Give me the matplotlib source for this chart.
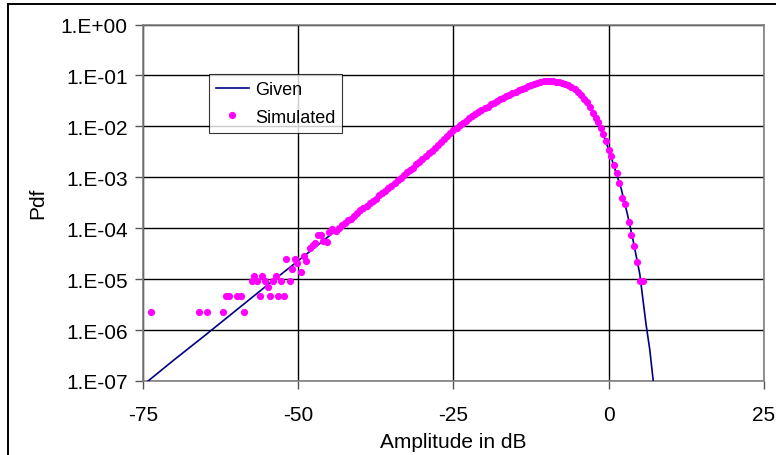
# === LIBRARY ===
import matplotlib
matplotlib.use("Agg")
from matplotlib import pyplot as plt
from matplotlib.ticker import NullLocator
from matplotlib.lines import Line2D

# === DATA ===
# given pdf curve
given_x = [-74.5, -70, -65, -60, -55, -50, -45, -40, -35, -31.5, -28, -25,
           -22, -20, -18, -16, -14, -12, -10.3, -9, -7, -5.5, -4, -3, -2,
           -1, 0, 1, 2, 3, 4, 5, 6, 6.6, 7.2]
given_y = [9.3e-8, 2.6e-7, 7.9e-7, 2.45e-6, 7.6e-6, 2.3e-5, 7.1e-5, 2.19e-4,
           6.9e-4, 1.58e-3, 3.72e-3, 8.5e-3, 1.58e-2, 2.3e-2, 3.16e-2, 4.2e-2,
           5.5e-2, 6.9e-2, 7.8e-2, 7.8e-2, 6.9e-2, 5.4e-2, 3.5e-2, 2.4e-2,
           1.38e-2, 7.6e-3, 3.5e-3, 1.45e-3, 6.0e-4, 1.9e-4, 5.2e-5, 1.26e-5,
           1.32e-6, 4.2e-7, 9.3e-8]

# simulated histogram points
sim_x = [-73.7, -66.0, -64.7, -62.1, -61.7, -61.2, -59.8, -59.2, -58.8, -57.5,
         -57.1, -56.6, -56.2, -55.8, -55.4, -54.9, -54.5, -54.0, -53.6, -53.2,
         -52.7, -52.3, -51.9, -51.4, -51.0, -50.6, -50.2, -49.5, -49.1, -48.7,
         -48.1, -47.7, -47.3, -46.9, -46.4, -46.0, -45.4, -45.0, -44.5,
         -44.0, -43.5, -43.0, -42.5, -42.0, -41.5, -41.0, -40.5, -40.0,
         -39.5, -39.0, -38.5, -38.0, -37.5, -37.0, -36.5, -36.0, -35.5, -35.0,
         -34.5, -34.0, -33.5, -33.0, -32.5, -32.0, -31.5, -31.0, -30.5, -30.0,
         -29.5, -29.0, -28.5, -28.0, -27.5, -27.0, -26.5, -26.0, -25.5, -25.0,
         -24.5, -24.0, -23.5, -23.0, -22.5, -22.0, -21.5, -21.0, -20.5, -20.0,
         -19.5, -19.0, -18.5, -18.0, -17.5, -17.0, -16.5, -16.0, -15.5, -15.0,
         -14.5, -14.0, -13.5, -13.0, -12.5, -12.0, -11.5, -11.0, -10.5, -10.0,
         -9.5, -9.0, -8.5, -8.0, -7.5, -7.0, -6.5, -6.0, -5.5, -5.0,
         -4.5, -4.0, -3.5, -3.0, -2.5, -2.1, -1.7, -1.3, -0.9, -0.5,
         0.0, 0.4, 0.8, 1.3, 1.7, 2.2, 2.7, 3.2, 3.6, 4.1,
         4.5, 5.1, 5.5]
sim_y = [2.3e-6, 2.3e-6, 2.3e-6, 2.3e-6, 4.6e-6, 4.6e-6, 4.6e-6, 4.6e-6, 2.3e-6, 9.2e-6,
         1.15e-5, 9.2e-6, 4.6e-6, 1.15e-5, 9.2e-6, 6.9e-6, 4.6e-6, 9.2e-6, 1.15e-5, 4.6e-6,
         9.2e-6, 4.6e-6, 2.5e-5, 9.2e-6, 1.6e-5, 2.5e-5, 2.1e-5, 1.4e-5, 2.8e-5, 2.3e-5,
         4.0e-5, 4.7e-5, 5.1e-5, 7.4e-5, 7.4e-5, 5.6e-5, 5.4e-5, 8.3e-5, 9.7e-5,
         8.9e-5, 1.0e-4, 1.15e-4, 1.26e-4, 1.42e-4, 1.55e-4, 1.70e-4, 1.95e-4, 2.25e-4,
         2.45e-4, 2.70e-4, 3.15e-4, 3.47e-4, 3.80e-4, 4.50e-4, 4.9e-4, 5.4e-4, 6.3e-4, 6.9e-4,
         7.6e-4, 8.9e-4, 9.8e-4, 1.10e-3, 1.28e-3, 1.41e-3, 1.55e-3, 1.80e-3, 2.04e-3, 2.25e-3,
         2.60e-3, 2.95e-3, 3.30e-3, 3.75e-3, 4.27e-3, 4.85e-3, 5.6e-3, 6.5e-3, 7.3e-3, 8.5e-3,
         9.5e-3, 1.06e-2, 1.17e-2, 1.28e-2, 1.45e-2, 1.58e-2, 1.74e-2, 1.90e-2, 2.1e-2, 2.3e-2,
         2.45e-2, 2.7e-2, 2.9e-2, 3.15e-2, 3.4e-2, 3.6e-2, 3.9e-2, 4.2e-2, 4.5e-2, 4.8e-2,
         5.1e-2, 5.5e-2, 5.8e-2, 6.2e-2, 6.5e-2, 6.9e-2, 7.2e-2, 7.5e-2, 7.7e-2, 7.8e-2,
         7.8e-2, 7.8e-2, 7.6e-2, 7.3e-2, 7.1e-2, 6.9e-2, 6.5e-2, 5.9e-2, 5.4e-2, 4.7e-2,
         4.1e-2, 3.5e-2, 2.95e-2, 2.4e-2, 1.86e-2, 1.48e-2, 1.23e-2, 9.1e-3, 7.1e-3, 5.2e-3,
         3.5e-3, 2.6e-3, 1.74e-3, 1.2e-3, 7.9e-4, 4.0e-4, 2.95e-4, 1.35e-4, 7.2e-5, 4.5e-5,
         2.2e-5, 9.1e-6, 9.1e-6]

x_ticks = [-75, -50, -25, 0, 25]
y_ticks = [1e-7, 1e-6, 1e-5, 1e-4, 1e-3, 1e-2, 1e-1, 1e0]
y_labels = ["1.E-07", "1.E-06", "1.E-05", "1.E-04", "1.E-03", "1.E-02", "1.E-01", "1.E+00"]

# === PLOT ===
plt.rcParams['font.family'] = ['Liberation Sans', 'DejaVu Sans']

fig = plt.figure(figsize=(7.76, 4.56), dpi=100)
ax = fig.add_axes([0.1843, 0.1623, 0.8002, 0.7817])

ax.plot(given_x, given_y, color="#000080", lw=1.2, label="Given", zorder=3)
ax.plot(sim_x, sim_y, ls="none", marker="o", ms=5.2, mec="none", color="#FF00FF",
        label="Simulated", zorder=4)

ax.set_yscale("log")
ax.set_xlim(-75, 25)
ax.set_ylim(1e-7, 1)
ax.set_xticks(x_ticks)
ax.set_xticklabels([str(t) for t in x_ticks])
ax.set_yticks(y_ticks)
ax.set_yticklabels(y_labels)
ax.yaxis.set_minor_locator(NullLocator())
ax.tick_params(axis="both", labelsize=15, length=6, width=1, color="#555555")
ax.tick_params(axis="y", pad=5)
ax.tick_params(axis="x", pad=11)

ax.grid(True, color="black", lw=1)
for s in ax.spines.values():
    s.set_color("#808080")
    s.set_linewidth(1.2)

ax.set_xlabel("Amplitude in dB", fontsize=15, labelpad=6)
ax.set_ylabel("Pdf", fontsize=15, labelpad=10)

leg = ax.legend(loc="upper left", bbox_to_anchor=(0.106, 0.862), fontsize=13,
                frameon=True, fancybox=False, borderaxespad=0, handlelength=1.8,
                handletextpad=0.35, borderpad=0.4, labelspacing=0.6, numpoints=1)
leg.get_frame().set_edgecolor("black")
leg.get_frame().set_linewidth(0.8)

# outer chart border (runs off the right and bottom)
fig.add_artist(Line2D([8 / 776, 8 / 776], [0, 1 - 5 / 456], color="black", lw=1.4,
                      transform=fig.transFigure))
fig.add_artist(Line2D([8 / 776, 1], [1 - 5 / 456, 1 - 5 / 456], color="black", lw=1.4,
                      transform=fig.transFigure))

fig.savefig("out.png", dpi=100)
